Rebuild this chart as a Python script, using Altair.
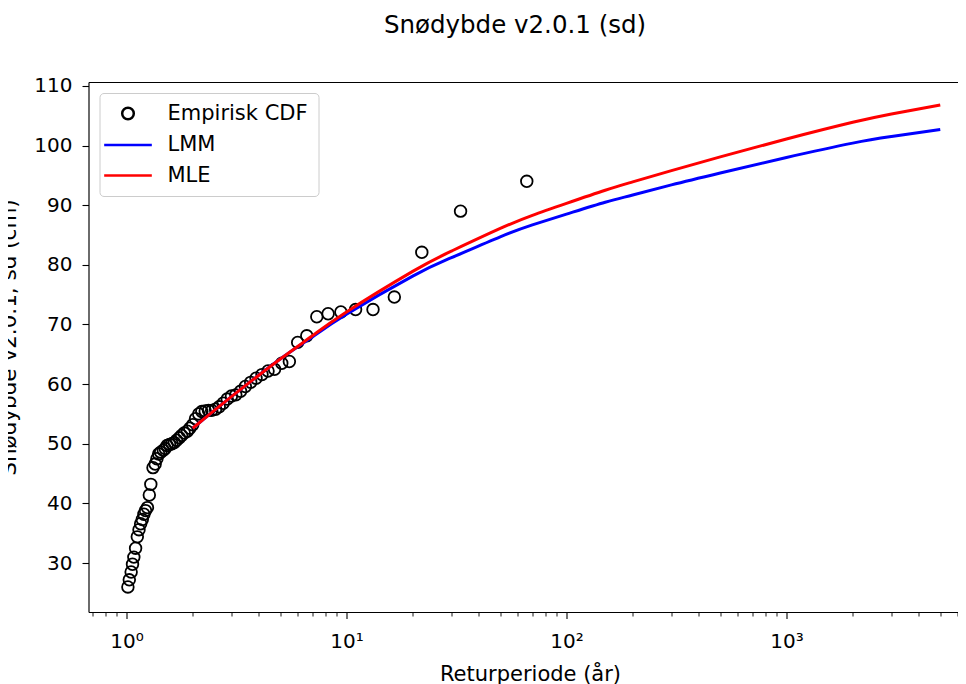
import altair as alt
import pandas as pd

# ---------------- data ----------------
series_names = ["Empirisk CDF", "LMM", "MLE"]
series_colors = ["black", "blue", "red"]

# Empirical points: return period (years) and snow depth (cm)
emp_T = [66.0, 33.0, 22.0, 16.5, 13.2, 11.0, 9.43, 8.25, 7.33, 6.6,
         6.0, 5.5, 5.08, 4.71, 4.4, 4.13, 3.88, 3.67, 3.47, 3.3,
         3.14, 3.0, 2.87, 2.75, 2.64, 2.54, 2.44, 2.36, 2.28, 2.2,
         2.13, 2.06, 2.0, 1.94, 1.89, 1.83, 1.78, 1.74, 1.69, 1.65,
         1.61, 1.57, 1.53, 1.5, 1.47, 1.43, 1.40, 1.375, 1.35, 1.32,
         1.29, 1.27, 1.245, 1.22, 1.2, 1.18, 1.16, 1.14, 1.12, 1.1,
         1.08, 1.065, 1.05, 1.03, 1.015]
emp_depth = [94.0, 89.0, 82.1, 74.6, 72.5, 72.5, 72.1, 71.8, 71.3, 68.1,
             67.0, 63.8, 63.5, 62.5, 62.2, 61.6, 61.0, 60.3, 59.6, 58.8,
             58.2, 58.0, 57.5, 56.8, 56.2, 55.8, 55.6, 55.6, 55.5, 55.4,
             55.0, 54.2, 53.2, 52.6, 52.1, 51.8, 51.4, 51.0, 50.6, 50.2,
             50.0, 49.9, 49.7, 49.2, 48.9, 48.6, 48.3, 47.5, 46.6, 46.0,
             43.2, 41.4, 39.3, 38.8, 38.2, 37.3, 36.6, 35.6, 34.4, 32.5,
             31.0, 29.8, 28.5, 27.2, 26.0]

# Fitted return levels
fit_T = [2, 3, 5, 7, 10, 20, 30, 50, 70, 100, 150, 200, 300, 500, 1000, 2000, 3000, 5000]
mle_level = [52.6, 57.9, 64.2, 68.1, 72.1, 78.9, 82.3, 86.1, 88.3, 90.3, 92.5, 93.9,
             95.8, 98.1, 101.1, 103.9, 105.3, 106.8]
lmm_level = [52.6, 57.9, 64.2, 67.9, 71.7, 78.1, 81.2, 84.7, 86.7, 88.5, 90.5, 91.7,
             93.4, 95.4, 98.0, 100.4, 101.5, 102.7]

major_ticks = [1, 10, 100, 1000]
minor_ticks = [0.7, 0.8, 0.9, 2, 3, 4, 5, 6, 7, 8, 9,
               20, 30, 40, 50, 60, 70, 80, 90,
               200, 300, 400, 500, 600, 700, 800, 900,
               2000, 3000, 4000, 5000, 6000]
y_ticks = [30, 40, 50, 60, 70, 80, 90, 100, 110]

x_domain = [0.672, 6934]
y_domain = [21.8, 110.65]

# ---------------- tables ----------------
emp_df = pd.DataFrame({"T": emp_T, "depth": emp_depth, "series": series_names[0]})
fit_df = pd.concat([
    pd.DataFrame({"T": fit_T, "depth": lmm_level, "series": "LMM", "order": 1}),
    pd.DataFrame({"T": fit_T, "depth": mle_level, "series": "MLE", "order": 2}),
])

FONT = "DejaVu Sans"
W, H = 883, 530

xscale = alt.Scale(type="log", domain=x_domain, nice=False)
yscale = alt.Scale(domain=y_domain, nice=False, zero=False)

y_axis = alt.Axis(values=y_ticks, title="Snødybde v2.0.1, sd (cm)", grid=False,
                  tickSize=6.5, tickColor="black", tickWidth=1.1,
                  domainColor="black", domainWidth=1.1,
                  labelFont=FONT, labelFontSize=20, labelColor="black", labelPadding=10,
                  titleFont=FONT, titleFontSize=21.5, titleFontWeight="normal", titleColor="black",
                  titleAngle=270, titleX=-73.5, titleY=255, titleBaseline="alphabetic",
                  titleAlign="center")
Y = alt.Y("depth:Q", scale=yscale, axis=y_axis)

def make_legend():
    return alt.Legend(title=None, orient="top-left", offset=11,
                      labelFont=FONT, labelFontSize=21, labelColor="black",
                      symbolSize=135, symbolStrokeWidth=2.5, symbolOffset=8,
                      fillColor="white", strokeColor="#cccccc", cornerRadius=4,
                      padding=10, rowPadding=8.5, labelOffset=29)

color = alt.Color("series:N", scale=alt.Scale(domain=series_names, range=series_colors),
                  legend=make_legend())
shape = alt.Shape("series:N", scale=alt.Scale(domain=series_names,
                                              range=["circle", "M-4.1,0H4.1", "M-4.1,0H4.1"]),
                  legend=make_legend())

points = alt.Chart(emp_df).mark_point(filled=False, size=135, strokeWidth=1.8, opacity=1).encode(
    x=alt.X("T:Q", scale=xscale,
            axis=alt.Axis(values=major_ticks, orient="bottom", grid=False,
                          labelExpr="datum.value == 1 ? '10⁰' : datum.value == 10 ? '10¹' : datum.value == 100 ? '10²' : '10³'",
                          tickSize=6.5, tickColor="black", tickWidth=1.1,
                          domainColor="black", domainWidth=1.1,
                          labelFont=FONT, labelFontSize=20, labelColor="black",
                          labelBaseline="alphabetic", labelPadding=29,
                          title="Returperiode (år)", titleFont=FONT, titleFontSize=21,
                          titleFontWeight="normal", titleColor="black",
                          titleX=441.5, titleY=68, titleBaseline="alphabetic")),
    y=Y,
    color=color,
    shape=shape,
)

lines = alt.Chart(fit_df).mark_line(strokeWidth=3, interpolate="natural").encode(
    x=alt.X("T:Q", scale=xscale,
            axis=alt.Axis(values=minor_ticks, orient="bottom", grid=False, labels=False,
                          domain=False, tickSize=4, tickColor="black", tickWidth=0.9,
                          title=None)),
    y=Y,
    color=color,
    order="order:Q",
)

topspine = alt.Chart(emp_df).mark_point(opacity=0).encode(
    x=alt.X("T:Q", scale=xscale,
            axis=alt.Axis(orient="top", grid=False, labels=False, ticks=False,
                          domain=True, domainColor="black", domainWidth=1.1, title=None)),
    y=Y,
)

chart = alt.layer(points, lines, topspine).resolve_axis(x="independent").properties(
    width=W, height=H,
    title=alt.Title("Snødybde v2.0.1 (sd)", font=FONT, fontSize=24.5, fontWeight="normal",
                    color="black", anchor="middle", dx=-15, offset=18, baseline="alphabetic"),
    autosize=alt.AutoSizeParams(type="none"),
    padding={"left": 80.5, "top": 74, "right": -13.5, "bottom": 90},
).configure_view(stroke=None).configure(background="white")

chart.save("out.html", embed_options={"renderer": "svg", "actions": False})
